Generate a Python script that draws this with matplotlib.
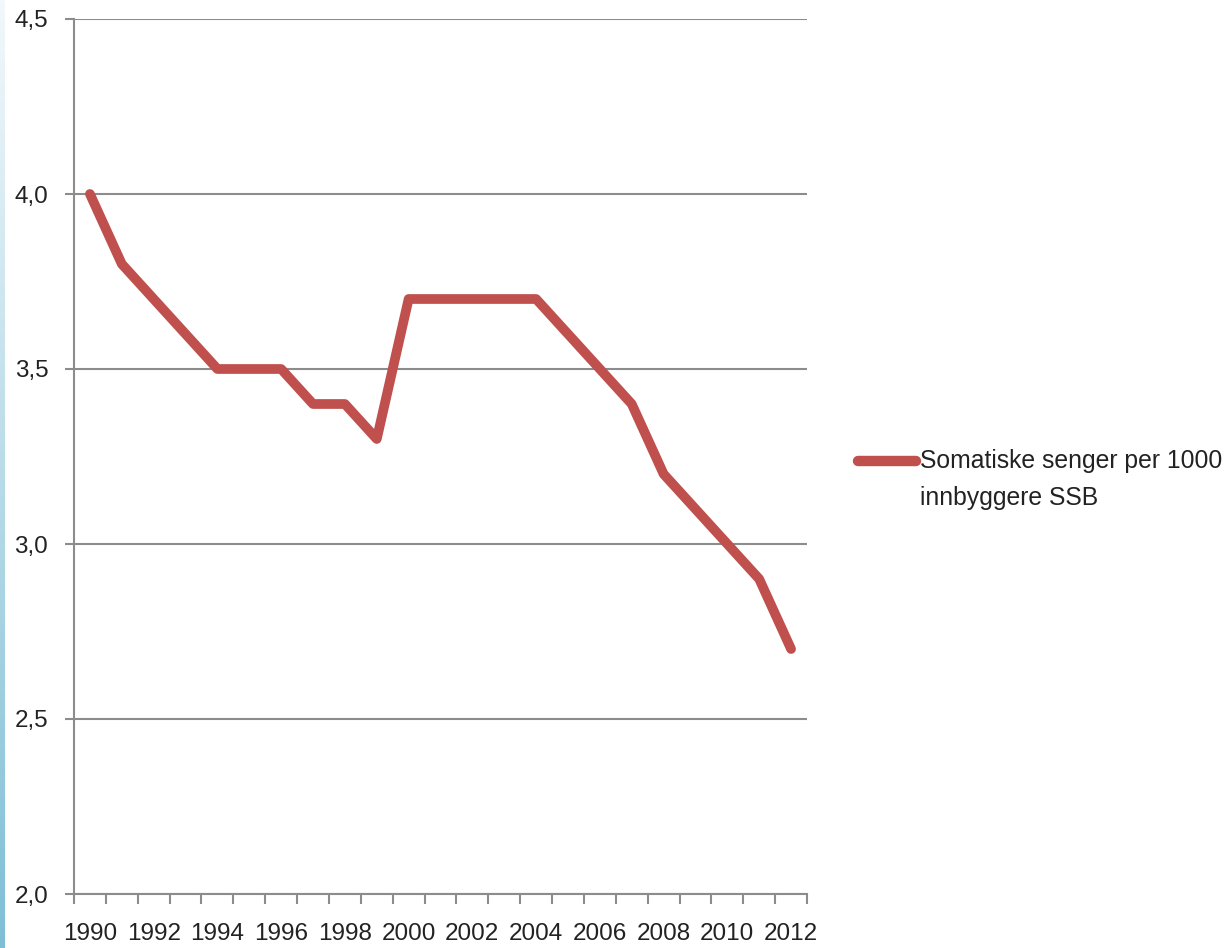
import matplotlib
matplotlib.use("Agg")
import matplotlib.pyplot as plt
import numpy as np
from matplotlib.lines import Line2D
from matplotlib.colors import LinearSegmentedColormap

years = list(range(1990, 2013))
values = [4.0, 3.8, 3.7, 3.6, 3.5, 3.5, 3.5, 3.4, 3.4, 3.3, 3.7, 3.7, 3.7, 3.7, 3.7,
          3.6, 3.5, 3.4, 3.2, 3.1, 3.0, 2.9, 2.7]
series_label = "Somatiske senger per 1000\ninnbyggere SSB"
y_ticks = [2.0, 2.5, 3.0, 3.5, 4.0, 4.5]
y_tick_labels = ["2,0", "2,5", "3,0", "3,5", "4,0", "4,5"]

plt.rcParams['font.family'] = ['Liberation Sans', 'DejaVu Sans']

W, H = 1231, 948
fig = plt.figure(figsize=(W / 100, H / 100), dpi=100)
fig.patch.set_facecolor('white')

# light blue strip at left edge
strip = fig.add_axes([0, 0, 5 / W, 1])
grad = np.linspace(0, 1, 256).reshape(-1, 1)
cmap = LinearSegmentedColormap.from_list('s', ['#7fbfd6', '#f2f8fb'])
strip.imshow(grad, aspect='auto', cmap=cmap, origin='lower')
strip.axis('off')

left, right, top, bottom = 74, 807, 19, 894
ax = fig.add_axes([left / W, 1 - bottom / H, (right - left) / W, (bottom - top) / H])

x = np.arange(len(years))
ax.plot(x, values, color='#c0504d', lw=7, solid_capstyle='round', solid_joinstyle='round', zorder=3)

ax.set_xlim(-0.5, len(years) - 0.5)
ax.set_ylim(2.0, 4.5)

ax.set_yticks(y_ticks)
ax.set_yticklabels(y_tick_labels)
ax.yaxis.grid(True, color='#8c8c8c', lw=1.5)
ax.set_axisbelow(True)

ax.set_xticks(x[::2])
ax.set_xticklabels([str(y) for y in years[::2]])
ax.set_xticks(np.arange(-0.5, len(years)), minor=True)
ax.tick_params(axis='x', which='major', length=0, pad=21, labelsize=17.5, labelcolor='#222222')
ax.tick_params(axis='x', which='minor', length=7, width=1.5, color='#8c8c8c')
ax.tick_params(axis='y', length=6.5, width=1.5, color='#8c8c8c', pad=12, labelsize=17.5, labelcolor='#222222')

for s in ['top', 'right']:
    ax.spines[s].set_visible(False)
for s in ['left', 'bottom']:
    ax.spines[s].set_color('#8c8c8c')
    ax.spines[s].set_linewidth(1.5)

# legend (manual)
ly = 1 - 461 / H
fig.add_artist(Line2D([858 / W, 916 / W], [ly, ly], color='#c0504d', lw=7.5,
                      solid_capstyle='round', transform=fig.transFigure))
lines = series_label.split("\n")
fig.text(920 / W, ly, lines[0], fontsize=17.8, color='#222222', va='center', ha='left')
fig.text(920 / W, 1 - 498 / H, lines[1], fontsize=17.8, color='#222222', va='center', ha='left')

fig.savefig('out.png', dpi=100, facecolor='white')
